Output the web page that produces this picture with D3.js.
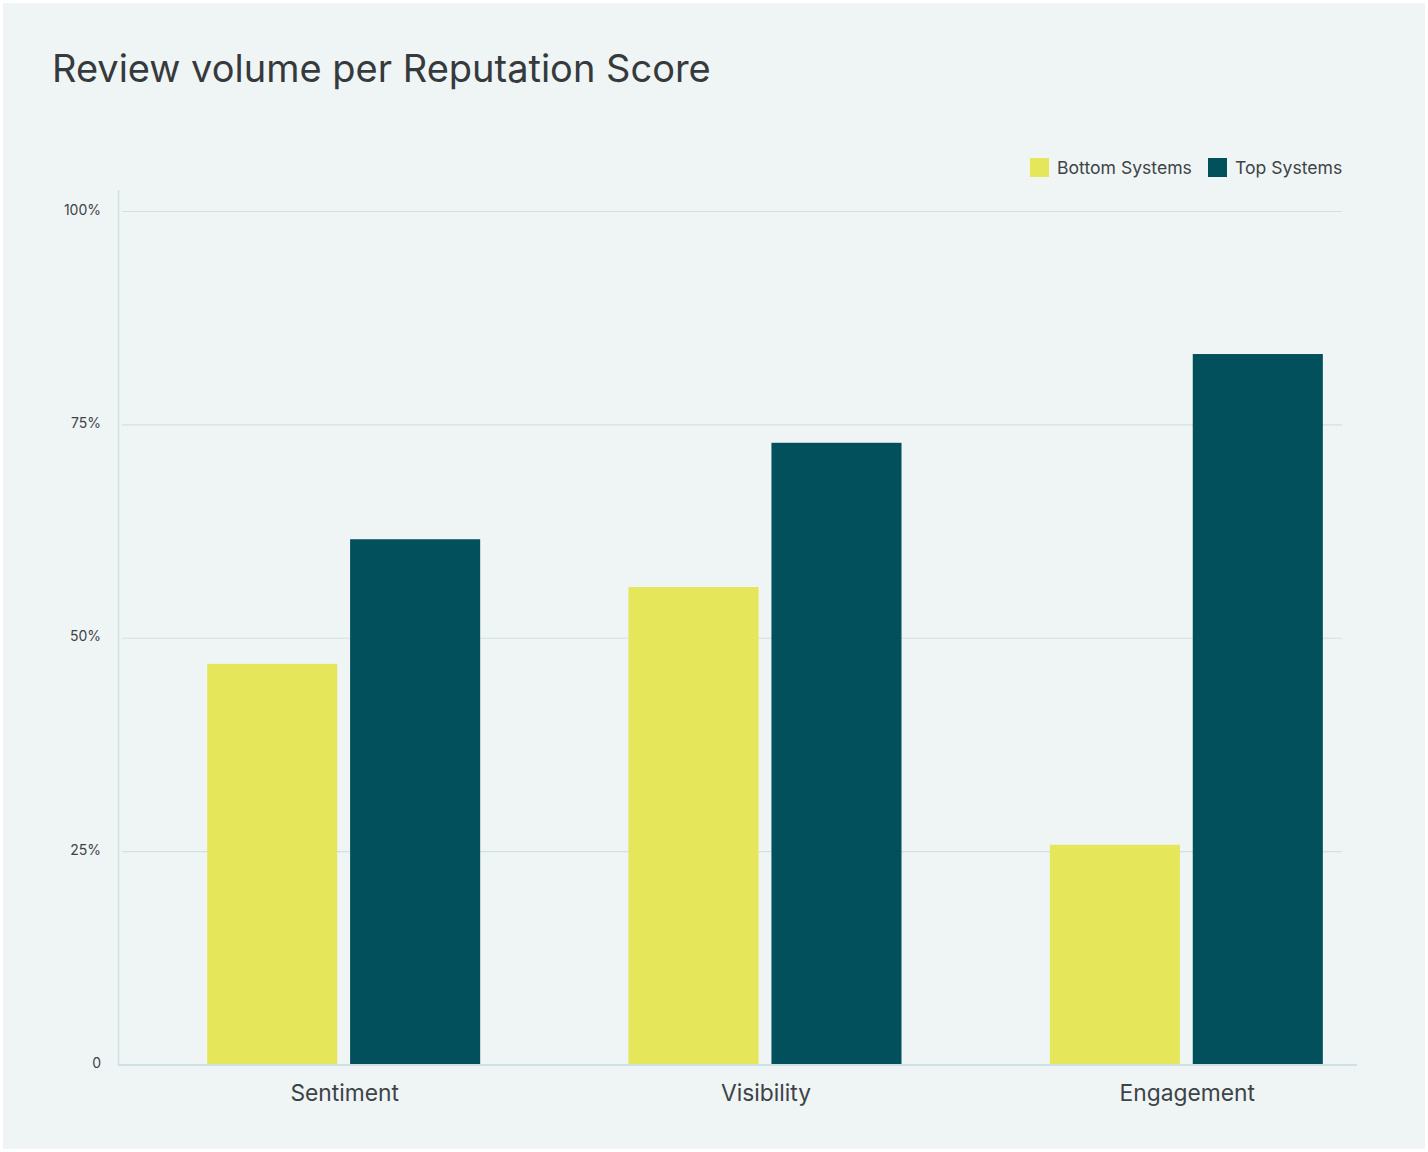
<!DOCTYPE html>
<html>
<head>
<meta charset="utf-8">
<script src="https://cdn.jsdelivr.net/npm/d3@7"></script>
<style>
  html, body { margin: 0; padding: 0; background: #ffffff; }
  svg { display: block; }
</style>
</head>
<body>
<svg id="chart"></svg>
<script>
// chart data
var categories = ['Sentiment', 'Visibility', 'Engagement'];
var seriesNames = ['Bottom Systems', 'Top Systems'];
var bottomValues = [47.0, 56.0, 25.8];
var topValues = [61.6, 72.9, 83.3];
var tickValues = [0, 25, 50, 75, 100];
var tickLabels = ['0', '25%', '50%', '75%', '100%'];

var colors = ['#e5e65a', '#02505b'];

window.onload = function() {
  var width = 1428, height = 1152;
  var svg = d3.select('#chart')
    .attr('width', width)
    .attr('height', height);

  // card background
  svg.append('rect')
    .attr('x', 3).attr('y', 3)
    .attr('width', width - 6).attr('height', height - 6)
    .attr('fill', '#eff5f4');

  svg.append('text')
    .attr('x', 52).attr('y', 82)
    .attr('font-family', 'Inter, "Noto Sans", sans-serif')
    .attr('font-size', 38)
    .attr('fill', '#363a3d')
    .text('Review volume per Reputation Score');

  var y = d3.scaleLinear().domain([0, 100]).range([1065, 211.5]);
  var x = d3.scaleBand().domain(categories).range([133, 1397]);
  var sub = d3.scaleBand().domain(seriesNames).range([0, 273]).paddingInner(0.09);

  // gridlines
  svg.append('g').selectAll('line')
    .data(tickValues.filter(function(d){ return d > 0; }))
    .enter().append('line')
      .attr('x1', 122).attr('x2', 1342)
      .attr('y1', function(d){ return y(d); })
      .attr('y2', function(d){ return y(d); })
      .attr('stroke', '#d3e0e0')
      .attr('stroke-width', 1.2);

  // tick labels
  svg.append('g').selectAll('text')
    .data(tickValues)
    .enter().append('text')
      .attr('x', 101)
      .attr('y', function(d){ return y(d) + 3; })
      .attr('text-anchor', 'end')
      .attr('font-family', 'Inter, "Noto Sans", sans-serif')
      .attr('font-size', 14)
      .attr('fill', '#3d4347')
      .text(function(d, i){ return tickLabels[i]; });

  // bars
  var rows = categories.map(function(c, i) {
    return { cat: c, vals: [bottomValues[i], topValues[i]] };
  });
  var groups = svg.append('g').selectAll('g')
    .data(rows)
    .enter().append('g')
      .attr('transform', function(d){
        return 'translate(' + (x(d.cat) + x.bandwidth() / 2 - 136.5) + ',0)';
      });
  groups.selectAll('rect')
    .data(function(d){ return d.vals.map(function(v, j){ return { name: seriesNames[j], v: v, j: j }; }); })
    .enter().append('rect')
      .attr('x', function(d){ return sub(d.name); })
      .attr('width', sub.bandwidth())
      .attr('y', function(d){ return y(d.v); })
      .attr('height', function(d){ return y(0) - y(d.v); })
      .attr('fill', function(d){ return colors[d.j]; });

  // axes lines
  svg.append('line')
    .attr('x1', 118.5).attr('x2', 118.5)
    .attr('y1', 190).attr('y2', 1065)
    .attr('stroke', '#cfdfe3').attr('stroke-width', 1.5);
  svg.append('line')
    .attr('x1', 118).attr('x2', 1357)
    .attr('y1', 1065).attr('y2', 1065)
    .attr('stroke', '#cfdfe3').attr('stroke-width', 2);

  // category labels
  svg.append('g').selectAll('text')
    .data(categories)
    .enter().append('text')
      .attr('x', function(d){ return x(d) + x.bandwidth() / 2 + 1; })
      .attr('y', 1101)
      .attr('text-anchor', 'middle')
      .attr('font-family', 'Inter, "Noto Sans", sans-serif')
      .attr('font-size', 22.8)
      .attr('fill', '#3d4347')
      .text(function(d){ return d; });

  // legend
  var legendX = [1030, 1208];
  var legend = svg.append('g').selectAll('g')
    .data(seriesNames)
    .enter().append('g')
      .attr('transform', function(d, i){ return 'translate(' + legendX[i] + ',158)'; });
  legend.append('rect')
    .attr('width', 19).attr('height', 19)
    .attr('fill', function(d, i){ return colors[i]; });
  legend.append('text')
    .attr('x', 27).attr('y', 16)
    .attr('font-family', 'Inter, "Noto Sans", sans-serif')
    .attr('font-size', 17.6)
    .attr('fill', '#3d4347')
    .text(function(d){ return d; });
};
</script>
</body>
</html>
